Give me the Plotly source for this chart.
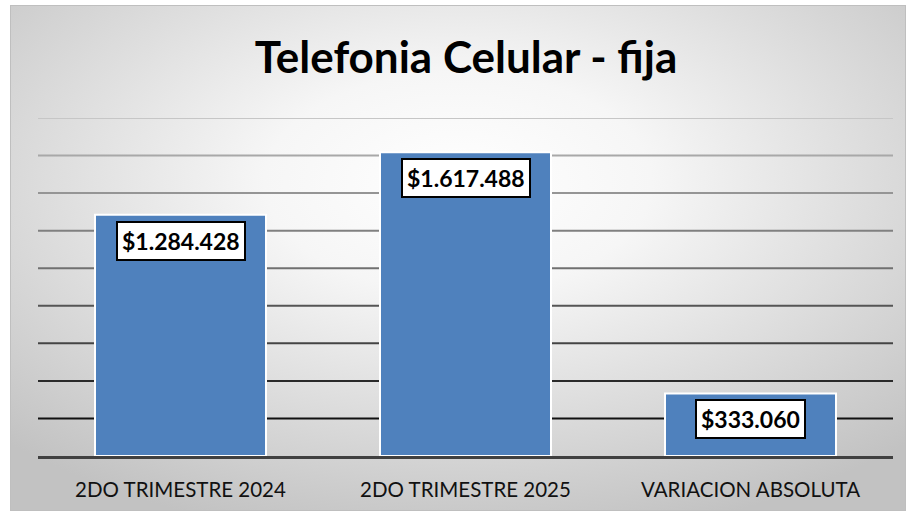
import plotly.graph_objects as go
import urllib.parse

# ---- data ----
categories = ["2DO TRIMESTRE 2024", "2DO TRIMESTRE 2025", "VARIACION ABSOLUTA"]
values = [1284428, 1617488, 333060]
value_labels = ["$1.284.428", "$1.617.488", "$333.060"]
grid_values = [200000, 400000, 600000, 800000, 1000000, 1200000, 1400000, 1600000, 1800000]
title_text = "Telefonia Celular - fija"

W, H = 911, 513
ML, MR, MT, MB = 38, 18, 118, 57
PW = W - ML - MR
PH = H - MT - MB
FONT = "Lato, 'Open Sans', sans-serif"

fig = go.Figure()
fig.add_trace(go.Bar(
    x=categories, y=values,
    marker=dict(color="#4f81bd", line=dict(color="white", width=2)),
    hoverinfo="skip",
))

# value labels in boxes
for c, v, t in zip(categories, values, value_labels):
    fig.add_annotation(
        x=c, y=v, xref="x", yref="y", text="<b>" + t + "</b>",
        showarrow=False, yanchor="top", yshift=-6,
        font=dict(family=FONT, size=23, color="black"),
        bgcolor="white", bordercolor="black", borderwidth=2, borderpad=4,
    )

# background radial gradient via svg image
svg = (
    "<svg xmlns='http://www.w3.org/2000/svg' width='896' height='506' preserveAspectRatio='none'>"
    "<defs><radialGradient id='g' cx='0.5' cy='0.35' r='0.72' gradientUnits='objectBoundingBox'>"
    "<stop offset='0' stop-color='#ffffff'/><stop offset='0.3' stop-color='#f6f6f6'/>"
    "<stop offset='1' stop-color='#c2c2c2'/></radialGradient></defs>"
    "<rect x='0' y='0' width='896' height='506' fill='url(#g)' stroke='#bfbfbf' stroke-width='2'/></svg>"
)
src = "data:image/svg+xml;charset=utf-8," + urllib.parse.quote(svg)
bx0, by0, bx1, by1 = 10, 5, 906, 511
fig.add_layout_image(
    source=src, xref="paper", yref="paper",
    x=(bx0 - ML) / PW, y=(H - MB - by0) / PH,
    sizex=(bx1 - bx0) / PW, sizey=(by1 - by0) / PH,
    xanchor="left", yanchor="top", sizing="stretch", layer="below",
)

# gridlines with fading colour (darker towards bottom)
grid_colors = ["#111111", "#2a2a2a", "#444444", "#555555", "#707070", "#808080", "#959595", "#a8a8a8", "#c6c6c6"]
for gv, gc in zip(grid_values, grid_colors):
    fig.add_shape(type="line", xref="paper", yref="y", x0=0, x1=1, y0=gv, y1=gv,
                  line=dict(color=gc, width=2), layer="below")

fig.update_layout(
    width=W, height=H,
    margin=dict(l=ML, r=MR, t=MT, b=MB),
    paper_bgcolor="white", plot_bgcolor="rgba(0,0,0,0)",
    bargap=0.4, showlegend=False,
    title=dict(text="<b>" + title_text + "</b>", x=466 / W, xanchor="center",
               y=1 - 58 / H, yanchor="middle",
               font=dict(family=FONT, size=44, color="black")),
    xaxis=dict(showgrid=False, showline=True, linecolor="#404040", linewidth=3,
               ticks="outside", ticklen=13, tickcolor="rgba(0,0,0,0)",
               tickfont=dict(family=FONT, size=20.5, color="#111111")),
    yaxis=dict(range=[0, 1800000], showgrid=False, showticklabels=False, zeroline=False,
               showline=False),
)

fig.write_html("out.html", config={"displayModeBar": False},
               post_script="document.body.style.margin='0';document.body.style.padding='0';")
